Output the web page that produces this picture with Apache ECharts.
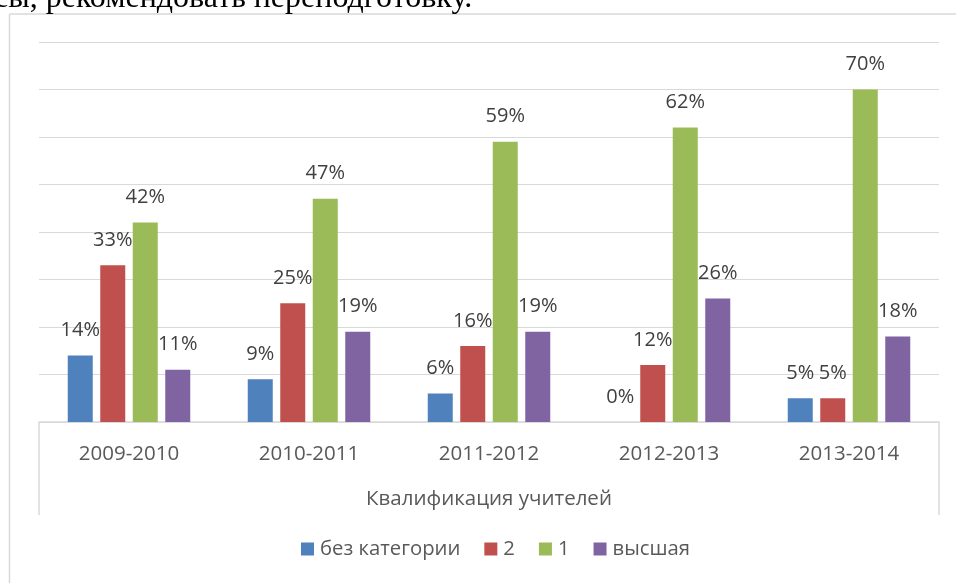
<!DOCTYPE html>
<html>
<head>
<meta charset="utf-8">
<script src="https://cdn.jsdelivr.net/npm/echarts@6/dist/echarts.min.js"></script>
<style>
html,body{margin:0;padding:0;background:#fff;}
#c{width:956px;height:583px;}
</style>
</head>
<body>
<div id="c"></div>
<script>
var categories = ['2009-2010', '2010-2011', '2011-2012', '2012-2013', '2013-2014'];
var seriesNames = ['без категории', '2', '1', 'высшая'];
var noCategory = [14, 9, 6, 0, 5];
var second = [33, 25, 16, 12, 5];
var first = [42, 47, 59, 62, 70];
var highest = [11, 19, 19, 26, 18];
var axisTitle = 'Квалификация учителей';
var headerText = 'сы, рекомендовать переподготовку.';

var colors = ['#4f81bd', '#c0504d', '#9bbb59', '#8064a2'];
var font = 'Open Sans';
var L = 39, R = 939, TOP = 42, BASE = 422;

var chart = echarts.init(document.getElementById('c'));
function mk(name, data, color) {
  return {
    name: name, type: 'bar', data: data, barWidth: 25, barGap: '30%',
    itemStyle: { color: color },
    label: {
      show: true, position: 'top', distance: 15, formatter: '{c}%',
      fontFamily: font, fontSize: 20, lineHeight: 20, color: '#404040'
    }
  };
}
chart.setOption({
  animation: false,
  color: colors,
  grid: { left: L, right: 956 - R, top: TOP, bottom: 583 - BASE, containLabel: false },
  legend: {
    top: 539, left: 301, padding: 0, itemWidth: 13, itemHeight: 13, itemGap: 24,
    icon: 'rect',
    textStyle: { fontFamily: font, fontSize: 20.3, color: '#595959', padding: [0,0,0,1] },
    data: seriesNames
  },
  xAxis: {
    type: 'category', data: categories,
    axisLine: { lineStyle: { color: '#d9d9d9', width: 1.5 } },
    axisTick: { show: false },
    axisLabel: { fontFamily: font, fontSize: 20.5, color: '#595959', margin: 22 },
    name: axisTitle, nameLocation: 'middle', nameGap: 67,
    nameTextStyle: { fontFamily: font, fontSize: 20.5, color: '#595959' }
  },
  yAxis: {
    type: 'value', min: 0, max: 80, interval: 10,
    axisLabel: { show: false }, axisLine: { show: false }, axisTick: { show: false },
    splitLine: { lineStyle: { color: '#d9d9d9', width: 1.2 } }
  },
  graphic: [
    { type: 'line', shape: { x1: L, y1: BASE, x2: L, y2: 515 }, style: { stroke: '#d9d9d9', lineWidth: 1.5 } },
    { type: 'line', shape: { x1: R, y1: BASE, x2: R, y2: 515 }, style: { stroke: '#d9d9d9', lineWidth: 1.5 } },
    { type: 'line', shape: { x1: 9.5, y1: 14, x2: 9.5, y2: 583 }, style: { stroke: '#d9d9d9', lineWidth: 1.5 } },
    { type: 'line', shape: { x1: 9.5, y1: 14, x2: 956, y2: 14 }, style: { stroke: '#d9d9d9', lineWidth: 1.5 } },
    { type: 'text', x: -6, y: 15, z: 10, style: { text: headerText, font: '32px "Liberation Serif"', fill: '#000', verticalAlign: 'bottom' } }
  ],
  series: [
    mk(seriesNames[0], noCategory, colors[0]),
    mk(seriesNames[1], second, colors[1]),
    mk(seriesNames[2], first, colors[2]),
    mk(seriesNames[3], highest, colors[3])
  ]
});
</script>
</body>
</html>
